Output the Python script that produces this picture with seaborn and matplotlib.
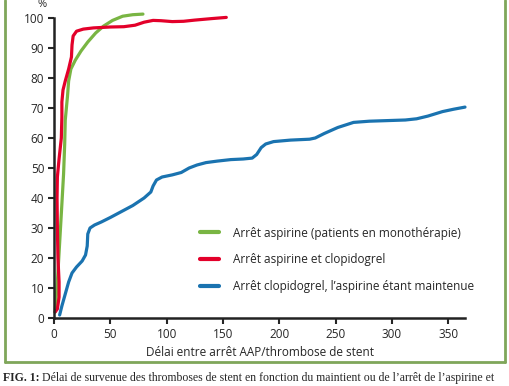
import pandas as pd
import seaborn as sns
import matplotlib.pyplot as plt
from matplotlib.lines import Line2D

# series (x = days, y = %)
green_x = [1, 3, 5, 7, 8.5, 9.5, 10, 11, 12, 13, 15, 19, 24, 30, 37, 44, 52, 61, 70, 79]
green_y = [2, 12, 25, 38, 48, 58, 66, 70, 74, 79, 83, 86, 89, 92, 95, 97.3, 99.2, 100.6, 101.1, 101.3]

red_x = [1, 3, 4.5, 4.5, 3.5, 3, 2.7, 3, 4.5, 6.5, 7, 7, 8, 10, 13, 15.5, 16, 17, 20, 26, 35, 50,
         62, 72, 80, 88, 95, 105, 115, 125, 140, 153]
red_y = [2, 3, 7, 12, 20, 30, 40, 47, 53, 60, 67, 72, 76, 79, 83, 87, 91, 94, 95.6, 96.3, 96.7, 97,
         97.1, 97.6, 98.6, 99.2, 99.1, 98.8, 98.9, 99.3, 99.8, 100.2]

blue_x = [5, 7, 10, 13, 16, 20, 25, 28, 29.5, 30, 32, 36, 42, 50, 60, 70, 80, 86, 88, 91, 96, 105,
          113, 120, 127, 135, 145, 157, 168, 176, 180, 184, 188, 195, 210, 227, 232, 240, 252, 266,
          280, 296, 312, 322, 332, 345, 355, 365]
blue_y = [1, 4, 8, 12, 15, 17, 19, 21, 24, 28, 30, 31, 32, 33.5, 35.5, 37.5, 40, 42, 44, 46, 47, 47.7,
          48.5, 50, 51, 51.8, 52.3, 52.8, 53, 53.3, 54.5, 56.8, 58, 58.8, 59.3, 59.6, 60, 61.5, 63.5, 65.2,
          65.6, 65.8, 66, 66.4, 67.3, 68.8, 69.6, 70.3]

labels = ["Arrêt aspirine (patients en monothérapie)",
          "Arrêt aspirine et clopidogrel",
          "Arrêt clopidogrel, l’aspirine étant maintenue"]
colors = ["#79b543", "#e3002a", "#1a73b0"]

x_ticks = list(range(0, 351, 50))
y_ticks = list(range(0, 101, 10))

df = pd.concat([
    pd.DataFrame({"x": green_x, "y": green_y, "serie": labels[0]}),
    pd.DataFrame({"x": red_x, "y": red_y, "serie": labels[1]}),
    pd.DataFrame({"x": blue_x, "y": blue_y, "serie": labels[2]}),
], ignore_index=True)

sns.set_style("white")
plt.rcParams["font.family"] = ["Open Sans", "DejaVu Sans"]

fig = plt.figure(figsize=(5.09, 3.86), dpi=100)
ax = fig.add_axes([54 / 509, 68 / 386, 411 / 509, 300 / 386])

sns.lineplot(data=df, x="x", y="y", hue="serie", palette=dict(zip(labels, colors)),
             sort=False, estimator=None, linewidth=2.3, ax=ax, legend=False,
             solid_joinstyle="round", solid_capstyle="round")
for line in ax.lines:
    line.set_clip_on(False)

ax.set_xlim(0, 365)
ax.set_ylim(0, 100)
ax.set_xticks(x_ticks)
ax.set_yticks(y_ticks)
ax.tick_params(axis="both", labelsize=8.5, length=4, width=1.5, direction="out",
               left=True, bottom=True, pad=3)
for s in ["top", "right"]:
    ax.spines[s].set_visible(False)
for s in ["left", "bottom"]:
    ax.spines[s].set_linewidth(1.8)
    ax.spines[s].set_color("#222222")
ax.set_xlabel("Délai entre arrêt AAP/thrombose de stent", fontsize=8.5, labelpad=4)
ax.set_ylabel("")
ax.text(-0.03, 1.045, "%", transform=ax.transAxes, fontsize=8, ha="center", va="center")

handles = [Line2D([0], [0], color=c, lw=3) for c in colors]
ax.legend(handles, labels, loc="upper left", bbox_to_anchor=(0.33, 0.34), frameon=False,
          fontsize=8.5, handlelength=1.6, handletextpad=1.2, labelspacing=1.15)

# green frame around the figure
frame = dict(color="#7fa65a", lw=2, transform=fig.transFigure, clip_on=False)
fig.add_artist(Line2D([5 / 509, 5 / 509], [24 / 386, 1], **frame))
fig.add_artist(Line2D([5 / 509, 505 / 509], [24 / 386, 24 / 386], **frame))
fig.add_artist(Line2D([505 / 509, 505 / 509], [24 / 386, 1], **frame))

fig.text(3 / 509, 2 / 386, "FIG. 1:", fontsize=8.5, fontweight="bold", family="Liberation Serif",
         va="bottom")
fig.text(42 / 509, 2 / 386,
         "Délai de survenue des thromboses de stent en fonction du maintient ou de l’arrêt de l’aspirine et",
         fontsize=8.5, family="Liberation Serif", va="bottom")

fig.savefig("out.png", dpi=100)
